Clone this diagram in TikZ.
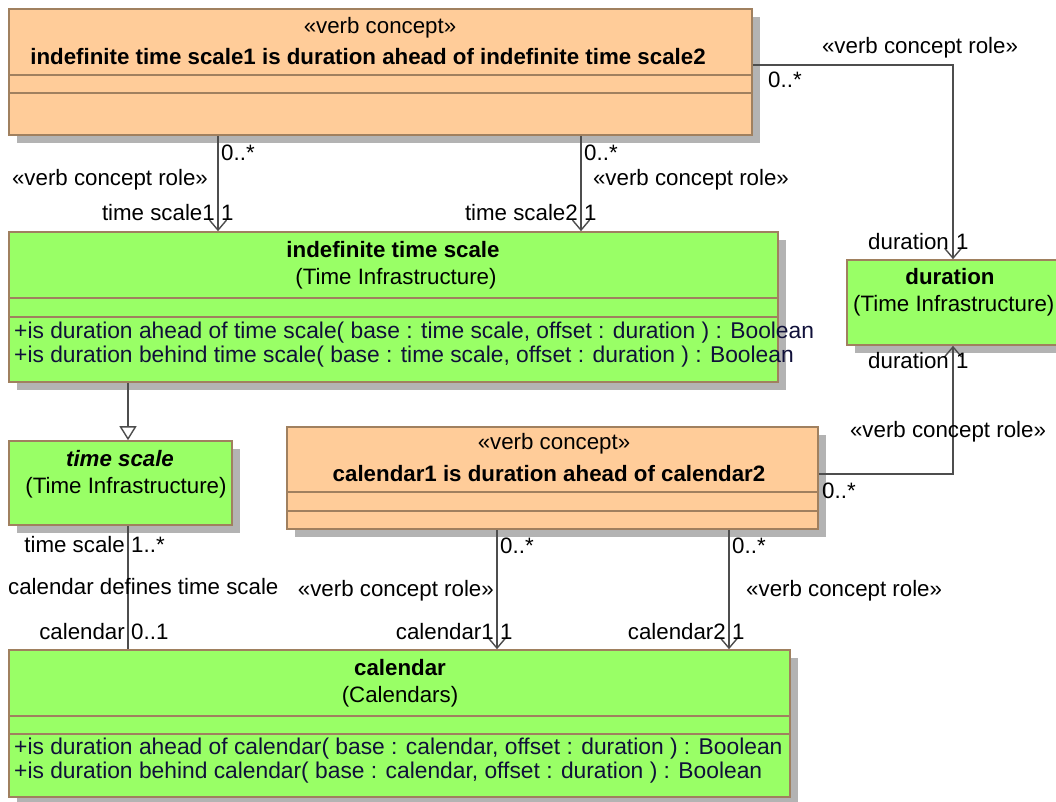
\documentclass[tikz,border=0pt]{standalone}
\usepackage{fontspec}
\setmainfont{Liberation Sans}
\usetikzlibrary{arrows.meta,shadows}
\definecolor{vcfill}{HTML}{FFCC99}
\definecolor{clfill}{HTML}{99FF66}
\definecolor{bord}{HTML}{A0805F}
\definecolor{shad}{HTML}{B3B3B3}
\definecolor{conn}{HTML}{4D4D4D}
\definecolor{optext}{HTML}{10103A}
\tikzset{
 box/.style={draw=bord, line width=1.6pt, rectangle, inner sep=0pt,
   drop shadow={shadow xshift=8pt, shadow yshift=-8pt, fill=shad, opacity=1}},
 vc/.style={box, fill=vcfill},
 cl/.style={box, fill=clfill},
 comp/.style={draw=bord, line width=1.6pt},
 txt/.style={inner sep=0pt, font=\fontsize{22.3}{27}\selectfont, text=black},
 btxt/.style={inner sep=0pt, font=\fontsize{22.3}{27}\selectfont\bfseries, text=black},
 op/.style={inner sep=0pt, font=\fontsize{22.8}{27}\selectfont, anchor=west, text=optext},
 assoc/.style={draw=conn, line width=1.4pt},
 nav/.style={assoc, -{Straight Barb[length=10pt,width=17pt,line width=1.4pt]}},
 gen/.style={assoc, -{Triangle[open,length=14pt,width=17pt,fill=white,line width=1.4pt]}},
}
\begin{document}
\begin{tikzpicture}[x=1pt,y=-1pt]
\useasboundingbox[fill=white] (0,0) rectangle (1056,801);
% boxes
\node[vc, minimum width=743pt, minimum height=126pt] (vc1) at (380.5,72) {};
\draw[comp] (vc1.west |- 0,75) -- (vc1.east |- 0,75);
\draw[comp] (vc1.west |- 0,93) -- (vc1.east |- 0,93);
\node[txt] (vc1s) at (380,28) {«verb concept»};
\node[btxt] (vc1t) at (368,57) {indefinite time scale1 is duration ahead of indefinite time scale2};

\node[cl, minimum width=769pt, minimum height=150pt] (its) at (393.5,307) {};
\draw[comp] (its.west |- 0,298) -- (its.east |- 0,298);
\draw[comp] (its.west |- 0,317) -- (its.east |- 0,317);
\node[btxt] (itst) at (393,250) {indefinite time scale};
\node[txt] (itsp) at (396,279) {(Time Infrastructure)};
\node[op] (itso1) at (14,333) {+is duration ahead of time scale( base : time scale, offset : duration ) : Boolean};
\node[op] (itso2) at (14,357) {+is duration behind time scale( base : time scale, offset : duration ) : Boolean};

\node[cl, minimum width=212pt, minimum height=85pt] (dur) at (953,302.5) {};
\node[btxt] (durt) at (950,277) {duration};
\node[txt, anchor=west] (durp) at (853,306) {(Time Infrastructure)};

\node[cl, minimum width=223pt, minimum height=84pt] (ts) at (120.5,483) {};
\node[btxt, font=\fontsize{22.3}{27}\selectfont\bfseries\itshape] (tst) at (120,459) {time scale};
\node[txt] (tsp) at (126,488) {(Time Infrastructure)};

\node[vc, minimum width=531pt, minimum height=102pt] (vc2) at (552.5,478) {};
\draw[comp] (vc2.west |- 0,492) -- (vc2.east |- 0,492);
\draw[comp] (vc2.west |- 0,511) -- (vc2.east |- 0,511);
\node[txt] (vc2s) at (554,444) {«verb concept»};
\node[btxt] (vc2t) at (549,474) {calendar1 is duration ahead of calendar2};

\node[cl, minimum width=781pt, minimum height=147pt] (cal) at (399.5,723.5) {};
\draw[comp] (cal.west |- 0,716) -- (cal.east |- 0,716);
\draw[comp] (cal.west |- 0,734) -- (cal.east |- 0,734);
\node[btxt] (calt) at (400,668) {calendar};
\node[txt] (calp) at (400,697) {(Calendars)};
\node[op] (calo1) at (14,749) {+is duration ahead of calendar( base : calendar, offset : duration ) : Boolean};
\node[op] (calo2) at (14,773) {+is duration behind calendar( base : calendar, offset : duration ) : Boolean};

% connector coordinates
\coordinate (x218) at (218,0);
\coordinate (x581) at (581,0);
\coordinate (x128) at (128,0);
\coordinate (x497) at (497,0);
\coordinate (x729) at (729,0);
\coordinate (y65) at (0,65);
\coordinate (y474) at (0,474);

\draw[nav] (vc1.south -| x218) -- (its.north -| x218);
\draw[nav] (vc1.south -| x581) -- (its.north -| x581);
\draw[nav] (vc1.east |- y65) -| (dur.north);
\draw[gen] (its.south -| x128) -- (ts.north -| x128);
\draw[nav] (vc2.east |- y474) -| (dur.south);
\draw[assoc] (ts.south -| x128) -- (cal.north -| x128);
\draw[nav] (vc2.south -| x497) -- (cal.north -| x497);
\draw[nav] (vc2.south -| x729) -- (cal.north -| x729);

% connector labels
\node[txt, anchor=west] (l1m) at (221,153) {0..*};
\node[txt] (l1s) at (110,180) {«verb concept role»};
\node[txt, anchor=east] (l1r) at (215,213) {time scale1};
\node[txt, anchor=west] (l1n) at (221,213) {1};

\node[txt, anchor=west] (l2m) at (584,153) {0..*};
\node[txt] (l2s) at (691,180) {«verb concept role»};
\node[txt, anchor=east] (l2r) at (578,213) {time scale2};
\node[txt, anchor=west] (l2n) at (584,213) {1};

\node[txt] (l3s) at (920,48) {«verb concept role»};
\node[txt, anchor=west] (l3m) at (768,80) {0..*};
\node[txt, anchor=east] (l3r) at (949,242) {duration};
\node[txt, anchor=west] (l3n) at (956,242) {1};

\node[txt, anchor=east] (l4r) at (949,361) {duration};
\node[txt, anchor=west] (l4n) at (956,361) {1};
\node[txt] (l4s) at (948,432) {«verb concept role»};
\node[txt, anchor=west] (l4m) at (822,491) {0..*};

\node[txt, anchor=east] (l5a) at (125,545) {time scale};
\node[txt, anchor=west] (l5b) at (131,545) {1..*};
\node[txt, anchor=west] (l5s) at (8,587) {calendar defines time scale};
\node[txt, anchor=east] (l5c) at (125,632) {calendar};
\node[txt, anchor=west] (l5d) at (131,632) {0..1};

\node[txt, anchor=west] (l6m) at (500,546) {0..*};
\node[txt, anchor=east] (l6s) at (494,591) {«verb concept role»};
\node[txt, anchor=east] (l6r) at (494,632) {calendar1};
\node[txt, anchor=west] (l6n) at (500,632) {1};

\node[txt, anchor=west] (l7m) at (732,546) {0..*};
\node[txt, anchor=west] (l7s) at (746,591) {«verb concept role»};
\node[txt, anchor=east] (l7r) at (726,632) {calendar2};
\node[txt, anchor=west] (l7n) at (732,632) {1};
\end{tikzpicture}
\end{document}
